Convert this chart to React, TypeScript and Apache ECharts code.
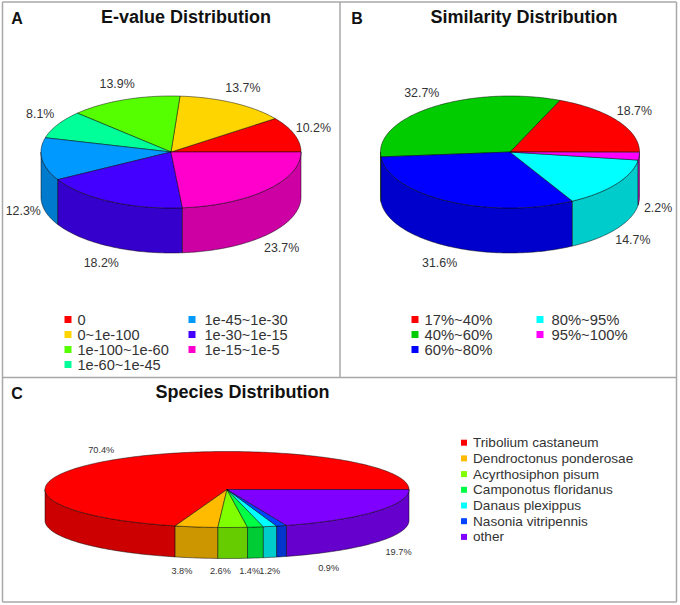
import React, { useEffect, useRef } from "react";
import * as echarts from "echarts";

const evalueCategories = ["0", "0~1e-100", "1e-100~1e-60", "1e-60~1e-45", "1e-45~1e-30", "1e-30~1e-15", "1e-15~1e-5"];
const evalueValues = [10.2, 13.7, 13.9, 8.1, 12.3, 18.2, 23.7];
const evalueColors = ["#ff0000", "#ffd500", "#55ff00", "#00ff99", "#0099ff", "#4400ff", "#ff00cc"];

const similarityCategories = ["17%~40%", "40%~60%", "60%~80%", "80%~95%", "95%~100%"];
const similarityValues = [18.7, 32.7, 31.6, 14.7, 2.2];
const similarityColors = ["#ff0000", "#00cc00", "#0000ff", "#00ffff", "#ff00ff"];

const speciesCategories = ["Tribolium castaneum", "Dendroctonus ponderosae", "Acyrthosiphon pisum", "Camponotus floridanus", "Danaus plexippus", "Nasonia vitripennis", "other"];
const speciesValues = [70.4, 3.8, 2.6, 1.4, 1.2, 0.9, 19.7];
const speciesColors = ["#ff0000", "#ffbb00", "#80ff00", "#00ff44", "#00ffff", "#0044ff", "#8000ff"];

const FONT = "'Liberation Sans', Arial, sans-serif";
const TEXT = "#333333";
const EDGE = "rgba(0,0,0,0.8)";

const darken = (hex: string) => {
  const n = parseInt(hex.slice(1), 16);
  const c = [(n >> 16) & 255, (n >> 8) & 255, n & 255].map((v) => Math.round(v * 0.8));
  return `rgb(${c[0]},${c[1]},${c[2]})`;
};

type Pie = {
  id: string; names: string[]; values: number[]; colors: string[];
  cx: number; cy: number; rx: number; ry: number; depth: number;
  labelSize: number; nudges?: number[][];
};

const pies: Pie[] = [
  {
    id: "A", names: evalueCategories, values: evalueValues, colors: evalueColors, cx: 171, cy: 152, rx: 130, ry: 56, depth: 45, labelSize: 12.4,
    nudges: [[0, 0], [0, 0], [0, 0], [0, -1], [1, 2], [0, 0], [0, 0]],
  },
  {
    id: "B", names: similarityCategories, values: similarityValues, colors: similarityColors, cx: 510, cy: 152, rx: 129.5, ry: 56, depth: 45, labelSize: 12.4,
    nudges: [[0, 0], [0, 0], [0, 0], [0, 0], [-1, 3]],
  },
  {
    id: "C", names: speciesCategories, values: speciesValues, colors: speciesColors, cx: 227, cy: 489.5, rx: 182, ry: 38, depth: 31, labelSize: 9.2,
    nudges: [[-5, 5], [-11, -5], [-13, -5], [-9, -5], [-5, -4], [41, -6], [7, -2]],
  },
];

function sliceSeries(p: Pie) {
  let acc = 0;
  return p.values.map((v, i) => {
    const start = acc;
    acc += v;
    const nudge = p.nudges ? p.nudges[i] : [0, 0];
    return {
      type: "custom",
      name: p.names[i],
      coordinateSystem: "none",
      silent: true,
      itemStyle: { color: p.colors[i] },
      data: [[start, start + v, v]],
      renderItem: (_: any, api: any) => {
        const toDeg = (pct: number) => Math.min(pct * 3.6, 360);
        const a0 = toDeg(api.value(0));
        const a1 = toDeg(api.value(1));
        const at = (deg: number, drop = 0) => {
          const t = (deg * Math.PI) / 180;
          return [p.cx + p.rx * Math.cos(t), p.cy - p.ry * Math.sin(t) + drop];
        };
        const arc = (from: number, to: number, drop = 0) => {
          const pts: number[][] = [];
          const n = Math.max(2, Math.ceil(to - from));
          for (let k = 0; k <= n; k++) pts.push(at(from + ((to - from) * k) / n, drop));
          return pts;
        };
        const children: any[] = [];
        const s0 = Math.max(a0, 180);
        if (a1 > s0) {
          children.push({
            type: "polygon",
            shape: { points: [...arc(s0, a1), ...arc(s0, a1, p.depth).reverse()] },
            style: { fill: darken(p.colors[i]), stroke: EDGE, lineWidth: 0.6 },
          });
        }
        children.push({
          type: "polygon",
          shape: { points: [[p.cx, p.cy], ...arc(a0, a1)] },
          style: { fill: p.colors[i], stroke: EDGE, lineWidth: 0.6 },
        });
        const mid = (a0 + a1) / 2;
        const t = (mid * Math.PI) / 180;
        const lower = Math.sin(t) < 0;
        const base = at(mid, lower ? p.depth : 0);
        children.push({
          type: "text",
          x: base[0] + 20 * Math.cos(t) + nudge[0],
          y: base[1] - 15 * Math.sin(t) + (lower ? 3 : -2) + nudge[1],
          style: {
            text: api.value(2).toFixed(1) + "%",
            fontSize: p.labelSize, fontFamily: FONT, fill: TEXT,
            align: "center", verticalAlign: "middle",
          },
        });
        return { type: "group", children };
      },
    };
  });
}

const panelTitle = (text: string, x: number, y: number, size: number) => ({
  text, left: x, top: y - size / 2, textAlign: "center" as const, padding: 0,
  textStyle: { fontFamily: FONT, fontWeight: "bold" as const, fontSize: size, color: "#111111", lineHeight: size },
});

const legendBox = (names: string[], left: number, top: number, size: number, rowGap: number, row: number, pad: number, swatch: number) => ({
  data: names, left, top, orient: "vertical" as const, selectedMode: false, padding: 0,
  itemWidth: swatch, itemHeight: swatch, itemGap: rowGap, icon: "rect",
  textStyle: { fontFamily: FONT, fontSize: size, color: TEXT, lineHeight: row, padding: [0, 0, 0, pad] },
});

const frame = [
  [2.5, 2, 676.5, 2], [2.5, 2, 2.5, 602], [676.5, 2, 676.5, 602], [2.5, 602, 676.5, 602],
  [2.5, 377.5, 676.5, 377.5], [340, 2, 340, 377.5],
];

export default function App() {
  const ref = useRef<HTMLDivElement>(null);
  useEffect(() => {
    document.body.style.margin = "0";
    const chart = echarts.init(ref.current!, undefined, { renderer: "svg" });
    chart.setOption({
      animation: false,
      backgroundColor: "#ffffff",
      title: [
        panelTitle("A", 17, 18, 16),
        panelTitle("E-value Distribution", 186, 17, 18),
        panelTitle("B", 357, 18, 16),
        panelTitle("Similarity Distribution", 524, 17, 18),
        panelTitle("C", 17, 393, 16),
        panelTitle("Species Distribution", 242.5, 392, 18),
      ],
      legend: [
        legendBox(evalueCategories.slice(0, 4), 64.5, 312, 14.6, 0, 14, 1, 7),
        legendBox(evalueCategories.slice(4), 188.5, 312, 14.6, 0, 14, 4, 7),
        legendBox(similarityCategories.slice(0, 3), 411.5, 312, 14.8, 0, 14, 1, 7),
        legendBox(similarityCategories.slice(3), 536.5, 312, 14.8, 0, 14, 3, 7),
        legendBox(speciesCategories, 461, 435.7, 13.6, 1.7, 14, 1, 6),
      ],
      graphic: frame.map(([x1, y1, x2, y2]) => ({
        type: "line", silent: true, z: -1,
        shape: { x1, y1, x2, y2 }, style: { stroke: "#a8a8a8", lineWidth: 1.5 },
      })),
      series: pies.flatMap(sliceSeries),
    });
    return () => chart.dispose();
  }, []);
  return <div ref={ref} style={{ width: 680, height: 605 }} />;
}
